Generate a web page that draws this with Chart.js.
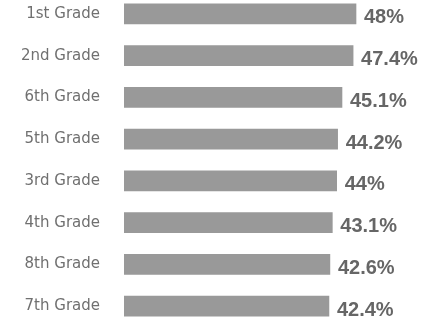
<!DOCTYPE html>
<html>
<head>
<meta charset="utf-8">
<script src="https://cdn.jsdelivr.net/npm/chart.js@4.4.1/dist/chart.umd.min.js"></script>
<style>
html, body { margin: 0; padding: 0; background: #fff; }
#frame { width: 425px; height: 317px; position: relative; overflow: hidden; }
#wrap { width: 425px; height: 334px; position: absolute; left: 0; top: -7px; }
</style>
</head>
<body>
<div id="frame"><div id="wrap"><canvas id="grades"></canvas></div></div>
<script>
var grades = ["1st Grade", "2nd Grade", "6th Grade", "5th Grade", "3rd Grade", "4th Grade", "8th Grade", "7th Grade"];
var percents = [48, 47.4, 45.1, 44.2, 44, 43.1, 42.6, 42.4];

// value labels right of each bar
var valueLabels = {
    id: "valueLabels",
    afterDatasetsDraw: function(chart){
        var ctx = chart.ctx;
        var meta = chart.getDatasetMeta(0);
        ctx.save();
        ctx.font = "bold 20px 'Liberation Sans', Arial, sans-serif";
        ctx.fillStyle = "#666666";
        ctx.textAlign = "left";
        ctx.textBaseline = "middle";
        meta.data.forEach(function(bar, i){
            ctx.fillText(percents[i] + "%", bar.x + 8, bar.y + 4);
        });
        ctx.restore();
    }
};

var ctx = document.getElementById("grades").getContext("2d");
var chart = new Chart(ctx, {
    type: "bar",
    data: {
        labels: grades,
        datasets: [{
            data: percents,
            backgroundColor: "#999999",
            barThickness: 20
        }]
    },
    options: {
        indexAxis: "y",
        responsive: true,
        maintainAspectRatio: false,
        animation: false,
        layout: { padding: { top: 0, bottom: 0, right: 11, left: 0 } },
        plugins: {
            legend: { display: false },
            tooltip: { enabled: false }
        },
        scales: {
            x: {
                display: false,
                min: 0,
                max: 60
            },
            y: {
                grid: { display: false, drawTicks: false },
                border: { display: false },
                afterFit: function(scale){
                    scale.width = 124;
                    // tick padding also pads top/bottom, drop that
                    scale.paddingTop = 0;
                    scale.paddingBottom = 0;
                },
                ticks: {
                    padding: 24,
                    color: "#707070",
                    font: { family: "'DejaVu Sans', sans-serif", size: 15 }
                }
            }
        }
    },
    plugins: [valueLabels]
});
</script>
</body>
</html>
